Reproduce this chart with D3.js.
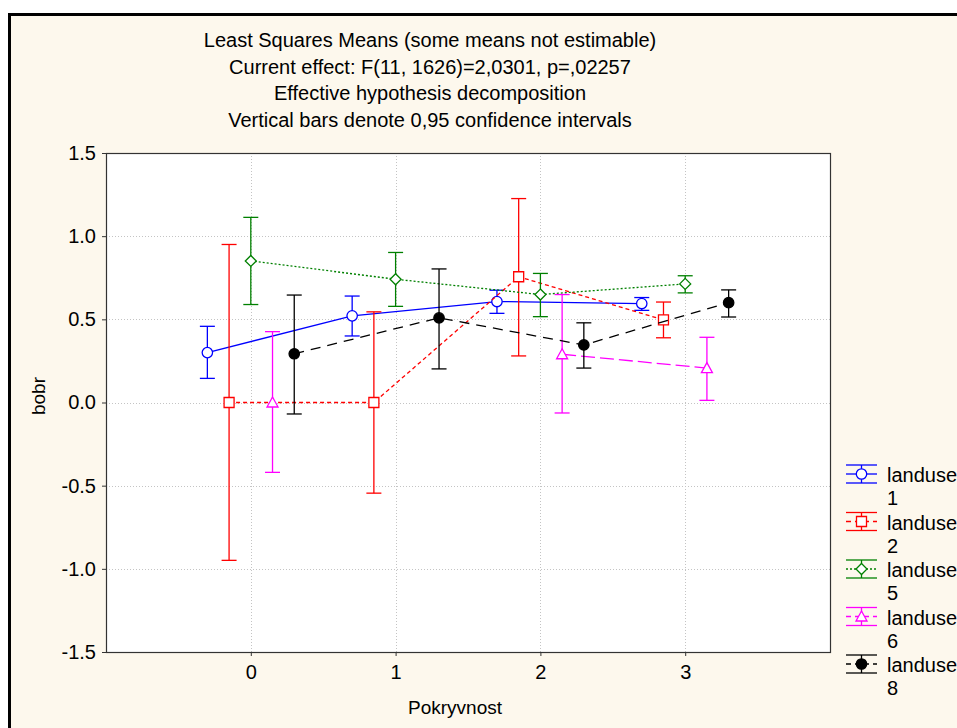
<!DOCTYPE html>
<html>
<head>
<meta charset="utf-8">
<script src="https://cdn.jsdelivr.net/npm/d3@7/dist/d3.min.js"></script>
<style>
  html, body { margin: 0; padding: 0; background: #ffffff; }
  svg { display: block; font-family: "Liberation Sans", Arial, sans-serif; }
</style>
</head>
<body>
<svg id="chart" width="957" height="728"></svg>
<script>
// Categories on the x axis (Pokryvnost levels)
const categories = [0, 1, 2, 3];
const yTicks = [-1.5, -1.0, -0.5, 0.0, 0.5, 1.0, 1.5];

// Least squares means with 0,95 confidence limits, one set per landuse level
const landuse1Mean = [0.300, 0.521, 0.607, 0.595];
const landuse1Lo   = [0.145, 0.400, 0.536, 0.554];
const landuse1Hi   = [0.458, 0.640, 0.675, 0.631];

const landuse2Mean = [0.000, 0.000, 0.756, 0.497];
const landuse2Lo   = [-0.949, -0.545, 0.280, 0.389];
const landuse2Hi   = [0.950, 0.545, 1.226, 0.604];

const landuse5Mean = [0.851, 0.741, 0.649, 0.713];
const landuse5Lo   = [0.589, 0.578, 0.516, 0.659];
const landuse5Hi   = [1.113, 0.902, 0.776, 0.762];

const landuse6Mean = [0.000, null, 0.290, 0.207];
const landuse6Lo   = [-0.420, null, -0.063, 0.013];
const landuse6Hi   = [0.426, null, 0.649, 0.392];

const landuse8Mean = [0.293, 0.509, 0.346, 0.600];
const landuse8Lo   = [-0.069, 0.202, 0.207, 0.514];
const landuse8Hi   = [0.646, 0.803, 0.479, 0.677];

const titleLines = [
  "Least Squares Means (some means not estimable)",
  "Current effect: F(11, 1626)=2,0301, p=,02257",
  "Effective hypothesis decomposition",
  "Vertical bars denote 0,95 confidence intervals"
];

const series = [
  { name: "landuse", level: "1", mean: landuse1Mean, lo: landuse1Lo, hi: landuse1Hi,
    color: "#0000ff", dash: null, marker: "circle", fill: "#ffffff", offset: -0.3 },
  { name: "landuse", level: "2", mean: landuse2Mean, lo: landuse2Lo, hi: landuse2Hi,
    color: "#ff0000", dash: "4,3", marker: "square", fill: "#ffffff", offset: -0.15 },
  { name: "landuse", level: "5", mean: landuse5Mean, lo: landuse5Lo, hi: landuse5Hi,
    color: "#008000", dash: "2,2", marker: "diamond", fill: "#ffffff", offset: 0 },
  { name: "landuse", level: "6", mean: landuse6Mean, lo: landuse6Lo, hi: landuse6Hi,
    color: "#ff00ff", dash: "14,5", marker: "triangle", fill: "#ffffff", offset: 0.15 },
  { name: "landuse", level: "8", mean: landuse8Mean, lo: landuse8Lo, hi: landuse8Hi,
    color: "#000000", dash: "10,7", marker: "dot", fill: "#000000", offset: 0.3 }
];

const FONT = "'Liberation Sans', Arial, sans-serif";
const FS = 20;
const FS_AXIS_TITLE = 19;

const svg = d3.select("#chart");

// Outer panel with cream fill and heavy frame
svg.append("rect")
  .attr("x", 9.5).attr("y", 14.5)
  .attr("width", 1000).attr("height", 800)
  .attr("fill", "#fdf8ed")
  .attr("stroke", "#000").attr("stroke-width", 3);

const plot = { left: 106, right: 830, top: 153, bottom: 652 };

const x = d3.scaleLinear().domain([-1, 4]).range([plot.left, plot.right]);
const y = d3.scaleLinear().domain([-1.5, 1.5]).range([plot.bottom, plot.top]);

// Plot background
svg.append("rect")
  .attr("x", plot.left).attr("y", plot.top)
  .attr("width", plot.right - plot.left).attr("height", plot.bottom - plot.top)
  .attr("fill", "#ffffff");

// Grid lines
const grid = svg.append("g").attr("stroke", "#c4c4c4").attr("stroke-dasharray", "1,2").attr("stroke-width", 1);
grid.selectAll(".gy").data(yTicks.slice(1, -1)).enter().append("line")
  .attr("x1", plot.left).attr("x2", plot.right)
  .attr("y1", d => Math.round(y(d)) + 0.5).attr("y2", d => Math.round(y(d)) + 0.5);
grid.selectAll(".gx").data(categories).enter().append("line")
  .attr("y1", plot.top).attr("y2", plot.bottom)
  .attr("x1", d => Math.round(x(d)) + 0.5).attr("x2", d => Math.round(x(d)) + 0.5);

// Axes (plain hyphen for negative numbers)
const fmtY = v => d3.format(".1f")(v).replace("\u2212", "-");
const yAxis = d3.axisLeft(y).tickValues(yTicks).tickFormat(fmtY).tickSize(4).tickPadding(6);
const xAxis = d3.axisBottom(x).tickValues(categories).tickFormat(d3.format("d")).tickSize(4).tickPadding(9);

const gy = svg.append("g").attr("transform", `translate(${plot.left},0)`).call(yAxis);
const gx = svg.append("g").attr("transform", `translate(0,${plot.bottom})`).call(xAxis);
[gx, gy].forEach(g => {
  g.select(".domain").remove();
  g.selectAll("line").attr("stroke", "#333");
  g.selectAll("text").attr("font-size", FS).attr("fill", "#000").attr("font-family", FONT);
});

// Plot frame
svg.append("rect")
  .attr("x", plot.left + 0.5).attr("y", plot.top + 0.5)
  .attr("width", plot.right - plot.left).attr("height", plot.bottom - plot.top)
  .attr("fill", "none").attr("stroke", "#333").attr("stroke-width", 1.2);

// Marker shapes
function markerPath(type) {
  switch (type) {
    case "square": return "M-5,-5H5V5H-5Z";
    case "diamond": return "M0,-5.5L5.5,0L0,5.5L-5.5,0Z";
    case "triangle": return "M0,-5.5L5.5,4.5H-5.5Z";
    default: return d3.symbol(d3.symbolCircle, 85)();
  }
}

const capHalf = 7.5;

series.forEach(s => {
  const pts = categories.map((c, i) => ({
    cx: x(c + s.offset), m: s.mean[i], lo: s.lo[i], hi: s.hi[i]
  }));
  const g = svg.append("g");

  // Connecting line
  const line = d3.line()
    .defined(d => d.m !== null)
    .x(d => d.cx).y(d => y(d.m));
  g.append("path").datum(pts)
    .attr("d", line)
    .attr("fill", "none")
    .attr("stroke", s.color)
    .attr("stroke-width", 1.3)
    .attr("stroke-dasharray", s.dash);

  const valid = pts.filter(d => d.m !== null);

  // Confidence interval whiskers
  const eb = g.selectAll(".eb").data(valid).enter().append("g")
    .attr("stroke", s.color).attr("stroke-width", 1.3);
  eb.append("line")
    .attr("x1", d => d.cx).attr("x2", d => d.cx)
    .attr("y1", d => y(d.lo)).attr("y2", d => y(d.hi));
  eb.append("line")
    .attr("x1", d => d.cx - capHalf).attr("x2", d => d.cx + capHalf)
    .attr("y1", d => y(d.hi)).attr("y2", d => y(d.hi));
  eb.append("line")
    .attr("x1", d => d.cx - capHalf).attr("x2", d => d.cx + capHalf)
    .attr("y1", d => y(d.lo)).attr("y2", d => y(d.lo));

  // Means
  g.selectAll(".pt").data(valid).enter().append("path")
    .attr("d", markerPath(s.marker))
    .attr("transform", d => `translate(${d.cx},${y(d.m)})`)
    .attr("fill", s.fill)
    .attr("stroke", s.color)
    .attr("stroke-width", 1.3);
});

// Legend
const legend = svg.append("g");
series.forEach((s, i) => {
  const cy = 474 + i * 47.5;
  const lg = legend.append("g").attr("transform", `translate(0,${cy})`);
  lg.append("line").attr("x1", 846).attr("x2", 877).attr("y1", -9).attr("y2", -9)
    .attr("stroke", s.color).attr("stroke-width", 1.3);
  lg.append("line").attr("x1", 846).attr("x2", 877).attr("y1", 9).attr("y2", 9)
    .attr("stroke", s.color).attr("stroke-width", 1.3);
  lg.append("line").attr("x1", 861.5).attr("x2", 861.5).attr("y1", -9).attr("y2", 9)
    .attr("stroke", s.color).attr("stroke-width", 1.3);
  lg.append("line").attr("x1", 846).attr("x2", 877).attr("y1", 0).attr("y2", 0)
    .attr("stroke", s.color).attr("stroke-width", 1.3)
    .attr("stroke-dasharray", s.dash ? (s.dash === "2,2" ? "2,2" : "5,4") : null);
  lg.append("path").attr("d", markerPath(s.marker))
    .attr("transform", "translate(861.5,0)")
    .attr("fill", s.fill).attr("stroke", s.color).attr("stroke-width", 1.3);
  lg.append("text").attr("x", 887).attr("y", 8)
    .attr("font-size", FS).attr("font-family", FONT).text(s.name);
  lg.append("text").attr("x", 887).attr("y", 31)
    .attr("font-size", FS).attr("font-family", FONT).text(s.level);
});

// Title block
svg.append("g").selectAll("text").data(titleLines).enter().append("text")
  .attr("x", 430).attr("y", (d, i) => 47 + i * 26.5)
  .attr("text-anchor", "middle").attr("font-size", FS).attr("font-family", FONT)
  .text(d => d);

// Axis titles
svg.append("text")
  .attr("x", 455).attr("y", 714)
  .attr("text-anchor", "middle").attr("font-size", FS_AXIS_TITLE).attr("font-family", FONT)
  .text("Pokryvnost");
svg.append("text")
  .attr("transform", "translate(45,396) rotate(-90)")
  .attr("text-anchor", "middle").attr("font-size", FS_AXIS_TITLE).attr("font-family", FONT)
  .text("bobr");
</script>
</body>
</html>
